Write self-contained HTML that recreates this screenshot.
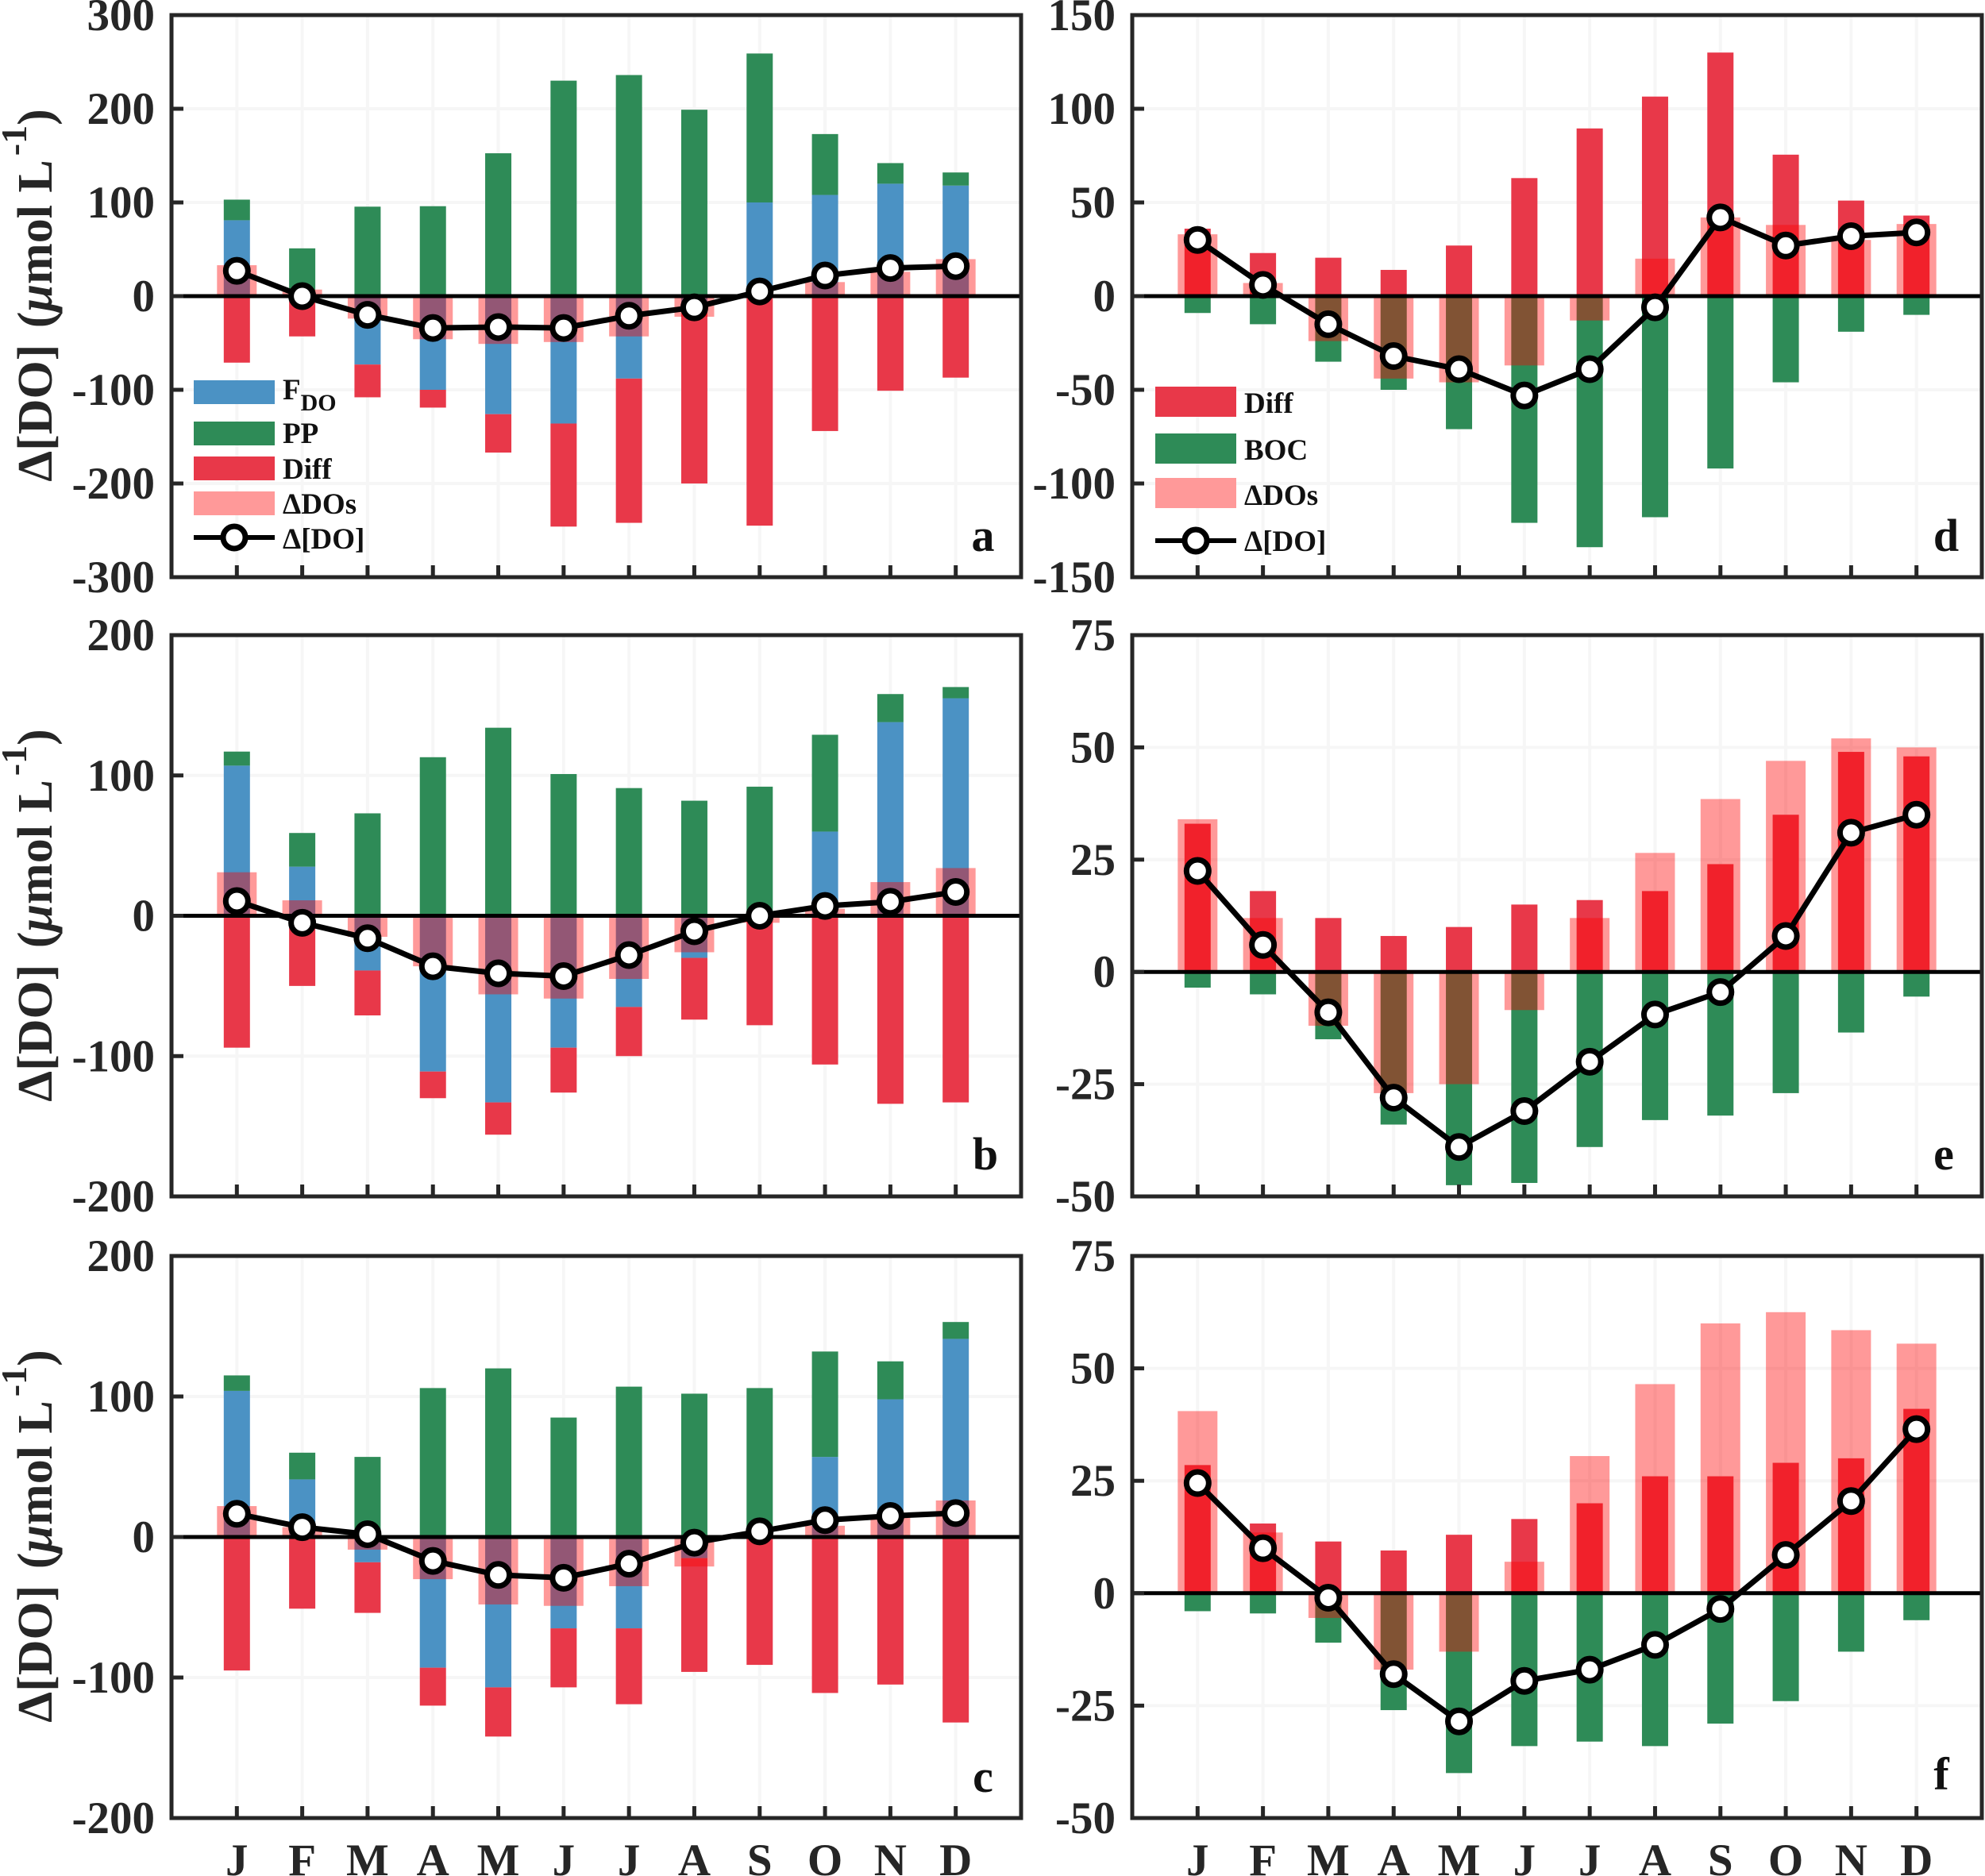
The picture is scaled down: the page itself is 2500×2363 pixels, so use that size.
<!DOCTYPE html>
<html lang="en">
<head>
<meta charset="utf-8">
<title>Monthly DO budget panels</title>
<style>
html,body{margin:0;padding:0;background:#fff;}
svg{display:block;}
text{font-family:"Liberation Serif",serif;font-weight:bold;fill:#262626;}
.leg{font-size:37px;fill:#111;}
.letter{font-size:58px;fill:#111;}
.ylab{font-size:62px;}
</style>
</head>
<body>
<svg id="chart" xmlns="http://www.w3.org/2000/svg" width="2500" height="2363" viewBox="0 0 2500 2363">
<rect width="2500" height="2363" fill="#fff"/>
<g id="panels"></g>

<text class="ylab" transform="translate(65 372) rotate(-90)" text-anchor="middle">Δ[DO] <tspan dx="5">(</tspan><tspan font-style="italic">μ</tspan>mol L<tspan dx="5" dy="-32" font-size="46">-1</tspan><tspan dy="32">)</tspan></text>
<text class="ylab" transform="translate(65 1153) rotate(-90)" text-anchor="middle">Δ[DO] <tspan dx="5">(</tspan><tspan font-style="italic">μ</tspan>mol L<tspan dx="5" dy="-32" font-size="46">-1</tspan><tspan dy="32">)</tspan></text>
<text class="ylab" transform="translate(65 1935) rotate(-90)" text-anchor="middle">Δ[DO] <tspan dx="5">(</tspan><tspan font-style="italic">μ</tspan>mol L<tspan dx="5" dy="-32" font-size="46">-1</tspan><tspan dy="32">)</tspan></text>

<text class="letter" x="1238" y="694" text-anchor="middle">a</text>
<text class="letter" x="1241" y="1473" text-anchor="middle">b</text>
<text class="letter" x="1238" y="2257" text-anchor="middle">c</text>
<text class="letter" x="2451" y="694" text-anchor="middle">d</text>
<text class="letter" x="2448" y="1473" text-anchor="middle">e</text>
<text class="letter" x="2445" y="2254" text-anchor="middle">f</text>

<g>
  <g>
    <rect x="244" y="479" width="102" height="30" fill="#4b92c4"/>
    <text class="leg" x="356" y="503">F<tspan dy="14" font-size="30">DO</tspan></text>
  </g>
  <g>
    <rect x="244" y="531" width="102" height="30" fill="#2e8b57"/>
    <text class="leg" x="356" y="558">PP</text>
  </g>
  <g>
    <rect x="244" y="575" width="102" height="30" fill="#e83849"/>
    <text class="leg" x="356" y="603">Diff</text>
  </g>
  <g>
    <rect x="244" y="619" width="102" height="30" fill="#ff9999"/>
    <text class="leg" x="356" y="647">ΔDOs</text>
  </g>
  <g>
    <line x1="244" y1="677" x2="346" y2="677" stroke="#000" stroke-width="6"/>
    <circle cx="295" cy="677" r="14" fill="#fff" stroke="#000" stroke-width="7"/>
    <text class="leg" x="356" y="691">Δ[DO]</text>
  </g>
</g>

<g>
  <g>
    <rect x="1455" y="487" width="102" height="38" fill="#e83849"/>
    <text class="leg" x="1567" y="520">Diff</text>
  </g>
  <g>
    <rect x="1455" y="546" width="102" height="38" fill="#2e8b57"/>
    <text class="leg" x="1567" y="579">BOC</text>
  </g>
  <g>
    <rect x="1455" y="602" width="102" height="38" fill="#ff9999"/>
    <text class="leg" x="1567" y="636">ΔDOs</text>
  </g>
  <g>
    <line x1="1455" y1="681" x2="1557" y2="681" stroke="#000" stroke-width="6"/>
    <circle cx="1506" cy="681" r="14" fill="#fff" stroke="#000" stroke-width="7"/>
    <text class="leg" x="1567" y="694">Δ[DO]</text>
  </g>
</g>
</svg>

<script>
var months = ['J','F','M','A','M','J','J','A','S','O','N','D'];

var ticksA = [300,200,100,0,-100,-200,-300];
var ticksBC = [200,100,0,-100,-200];
var ticksD = [150,100,50,0,-50,-100,-150];
var ticksEF = [75,50,25,0,-25,-50];

var fdoA = [81,0,-73,-100,-126,-136,-88,-18,100,108,120,118];
var ppA = [22,51,95.5,96,152.5,230,236,199,159,65,22,14];
var diffA = [-71,-43,-35,-19,-41,-110,-154,-182,-245,-144,-101,-87];
var dosA = [33,7,-24,-46,-51,-49,-43,-22,0,15,26,39.5];
var lineA = [27,0,-20,-34,-33,-34,-21,-12,5,22,30,32];

var fdoB = [107,35,-39,-111,-133,-94,-65,-30,0,60,138,155];
var ppB = [10,24,73,113,134,101,91,82,92,69,20,8];
var diffB = [-94,-50,-32,-19,-23,-32,-35,-44,-78,-106,-134,-133];
var dosB = [31,11,-15,-36,-56,-59,-45,-26,-5,5,24,34];
var lineB = [10.5,-5,-16,-36,-41,-43,-28,-11,0,7,10,17];

var fdoC = [104,41,-18,-93,-107,-65,-65,-15,0,57,98,141];
var ppC = [11,19,57,106,120,85,107,102,106,75,27,12];
var diffC = [-95,-51,-36,-27,-35,-42,-54,-81,-91,-111,-105,-132];
var dosC = [22,7,-9,-30,-48,-49,-35,-21,0,8,14,26];
var lineC = [16.5,7,2,-17,-27,-29,-19,-4,4,12,15,17];

var diffD = [36,23,20.5,14,27,63,89.5,106.5,130,75.5,51,43];
var bocD = [-9,-15,-35,-50,-71,-121,-134,-118,-92,-46,-19,-10];
var dosD = [33,7,-24,-44,-46,-37,-13,20,42,38,30,38.5];
var lineD = [30,6,-15,-32,-39,-53,-39,-6,42,27,32,34];

var diffE = [33,18,12,8,10,15,16,18,24,35,49,48];
var bocE = [-3.5,-5,-15,-34,-47.5,-47,-39,-33,-32,-27,-13.5,-5.5];
var dosE = [34,12,-12,-27,-25,-8.5,12,26.5,38.5,47,52,50];
var lineE = [22.5,6,-9,-28,-39,-31,-20,-9.5,-4.5,8,31,35];

var diffF = [28.5,15.5,11.5,9.5,13,16.5,20,26,26,29,30,41];
var bocF = [-4,-4.5,-11,-26,-40,-34,-33,-34,-29,-24,-13,-6];
var dosF = [40.5,13.5,-5.5,-17,-13,7,30.5,46.5,60,62.5,58.5,55.5];
var lineF = [24.5,10,-1,-18,-28.5,-19.5,-17,-11.5,-3.5,8.5,20.5,36.5];

var NS = 'http://www.w3.org/2000/svg';
var root = document.getElementById('panels');

function mk(tag, attrs, parent) {
  var el = document.createElementNS(NS, tag);
  for (var k in attrs) el.setAttribute(k, attrs[k]);
  parent.appendChild(el);
  return el;
}

function drawPanel(id, box, ymin, ymax, ticks, stack, dos, line, showMonths) {
  var g = mk('g', {}, root);
  
  

  function xs(i) { return box.l + (box.r - box.l) * (i + 1) / 13; }
  function ys(v) { return box.b - (box.b - box.t) * (v - ymin) / (ymax - ymin); }

  // grid
  ticks.forEach(function (t) {
    var gl = mk('line', {x1: box.l, x2: box.r, y1: ys(t), y2: ys(t), stroke: '#f6f6f6', 'stroke-width': 4}, g);
    
    
  });
  months.forEach(function (m, i) {
    var gl = mk('line', {x1: xs(i), x2: xs(i), y1: box.t, y2: box.b, stroke: '#f6f6f6', 'stroke-width': 4}, g);
    
    
  });

  // stacked bars
  months.forEach(function (m, i) {
    var pos = 0, neg = 0;
    stack.forEach(function (s) {
      var v = s.values[i];
      if (!v) return;
      var a, b;
      if (v > 0) { a = pos; b = pos + v; pos = b; }
      else { a = neg; b = neg + v; neg = b; }
      var bar = mk('rect', {
        x: xs(i) - 16.5, width: 33,
        y: Math.min(ys(a), ys(b)), height: Math.abs(ys(a) - ys(b)),
        fill: s.color
      }, g);
      
      
    });
  });

  // delta DOs translucent bars
  dos.forEach(function (v, i) {
    var bar = mk('rect', {
      x: xs(i) - 25, width: 50,
      y: Math.min(ys(0), ys(v)), height: Math.abs(ys(0) - ys(v)),
      fill: '#ff0000', 'fill-opacity': 0.4
    }, g);
    
    
  });

  // zero line
  var zero = mk('line', {x1: box.l, x2: box.r, y1: ys(0), y2: ys(0), stroke: '#000', 'stroke-width': 5}, g);
  
  

  // ticks
  ticks.forEach(function (t) {
    var tk = mk('line', {x1: box.l, x2: box.l + 15, y1: ys(t), y2: ys(t), stroke: '#262626', 'stroke-width': 5}, g);
    
    
    var lb = mk('text', {x: box.l - 21, y: ys(t) + 19, 'text-anchor': 'end', 'font-size': 57}, g);
    lb.textContent = String(t);
    
    
  });
  months.forEach(function (m, i) {
    var tk = mk('line', {x1: xs(i), x2: xs(i), y1: box.b - 15, y2: box.b, stroke: '#262626', 'stroke-width': 5}, g);
    
    
    if (showMonths) {
      var lb = mk('text', {x: xs(i), y: box.b + 72, 'text-anchor': 'middle', 'font-size': 57}, g);
      lb.textContent = m;
      
      
    }
  });

  // line series
  var pts = line.map(function (v, i) { return xs(i) + ',' + ys(v); }).join(' ');
  var pl = mk('polyline', {points: pts, fill: 'none', stroke: '#000', 'stroke-width': 7, 'stroke-linejoin': 'round'}, g);
  
  
  line.forEach(function (v, i) {
    var c = mk('circle', {cx: xs(i), cy: ys(v), r: 14, fill: '#fff', stroke: '#000', 'stroke-width': 7}, g);
    
    
  });

  // frame
  var fr = mk('rect', {x: box.l, y: box.t, width: box.r - box.l, height: box.b - box.t, fill: 'none', stroke: '#262626', 'stroke-width': 5}, g);
  
  
}

var BLUE = '#4b92c4', GREEN = '#2e8b57', RED = '#e83849';

drawPanel('a', {l:216,r:1286,t:19,b:727}, -300, 300, ticksA,
  [{name:'fdo',color:BLUE,values:fdoA},{name:'pp',color:GREEN,values:ppA},{name:'diff',color:RED,values:diffA}], dosA, lineA, false);
drawPanel('b', {l:216,r:1286,t:800,b:1507}, -200, 200, ticksBC,
  [{name:'fdo',color:BLUE,values:fdoB},{name:'pp',color:GREEN,values:ppB},{name:'diff',color:RED,values:diffB}], dosB, lineB, false);
drawPanel('c', {l:216,r:1286,t:1582,b:2290}, -200, 200, ticksBC,
  [{name:'fdo',color:BLUE,values:fdoC},{name:'pp',color:GREEN,values:ppC},{name:'diff',color:RED,values:diffC}], dosC, lineC, true);
drawPanel('d', {l:1426,r:2496,t:19,b:727}, -150, 150, ticksD,
  [{name:'diff',color:RED,values:diffD},{name:'boc',color:GREEN,values:bocD}], dosD, lineD, false);
drawPanel('e', {l:1426,r:2496,t:800,b:1507}, -50, 75, ticksEF,
  [{name:'diff',color:RED,values:diffE},{name:'boc',color:GREEN,values:bocE}], dosE, lineE, false);
drawPanel('f', {l:1426,r:2496,t:1582,b:2290}, -50, 75, ticksEF,
  [{name:'diff',color:RED,values:diffF},{name:'boc',color:GREEN,values:bocF}], dosF, lineF, true);
</script>
</body>
</html>
